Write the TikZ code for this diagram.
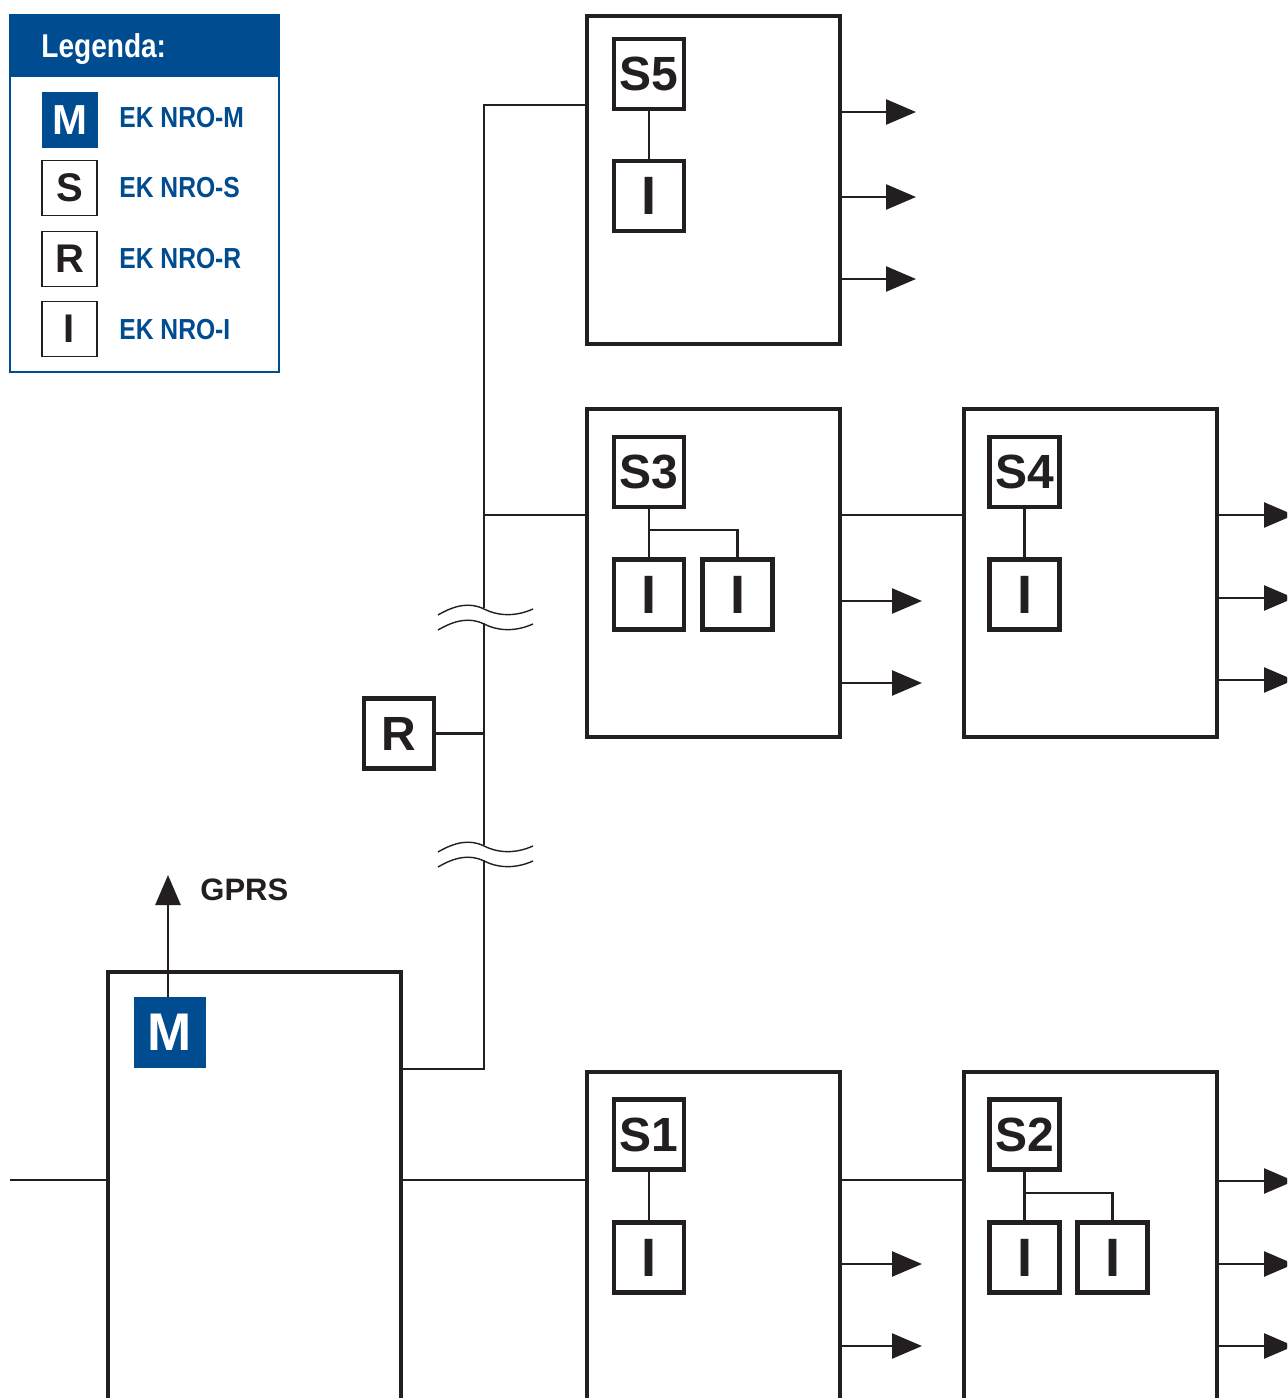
\documentclass[tikz,border=0pt]{standalone}
\usepackage{fontspec}
\usepackage{graphicx}
\setmainfont{Liberation Sans}
\newcommand{\cond}[1]{\scalebox{0.85}[1]{\bfseries #1}}
\usetikzlibrary{arrows.meta}
\definecolor{nroblue}{RGB}{0,76,145}
\definecolor{ink}{RGB}{35,31,32}
\tikzset{
  bigbox/.style={draw=ink, line width=2.2pt, minimum width=126.5pt, minimum height=164pt, inner sep=0pt},
  lblbox/.style={draw=ink, line width=2.2pt, minimum width=35pt, minimum height=35pt, inner sep=0pt, font=\bfseries\fontsize{24}{24}\selectfont, text=ink},
  ibox/.style={lblbox, font=\bfseries\fontsize{27}{27}\selectfont},
  legbox/.style={draw=ink, line width=0.9pt, minimum width=27.5pt, minimum height=27.5pt, inner sep=0pt, font=\bfseries\fontsize{20}{20}\selectfont, text=ink},
  legtxt/.style={anchor=west, inner sep=0pt, text=nroblue, font=\fontsize{14.5}{14.5}\selectfont},
  wire/.style={draw=ink, line width=1.25pt},
  arr/.style={wire, -{Triangle[length=15pt, width=12.5pt]}},
  wave/.style={draw=ink, line width=0.7pt},
}
\begin{document}
\begin{tikzpicture}[x=0.5pt, y=-0.5pt]
\clip (0,0) rectangle (1287,1398);
\fill[white] (0,0) rectangle (1287,1398);

% ---------- legend ----------
\fill[nroblue] (10,15) rectangle (279,77);
\draw[nroblue, line width=0.75pt] (10,15) rectangle (279,372);
\node[anchor=base west, inner sep=0pt, text=white, font=\fontsize{16.5}{16.5}\selectfont] (legtitle) at (41,57) {\cond{Legenda:}};
\node[legbox, fill=nroblue, draw=none, minimum width=28pt, minimum height=28pt, text=white, font=\bfseries\fontsize{21}{21}\selectfont] (lM) at (70,120) {M};
\node[legbox] (lS) at (69.5,188) {S};
\node[legbox] (lR) at (69.5,259) {R};
\node[legbox] (lI) at (69.5,329) {I};
\node[legtxt] (tM) at (119,118) {\cond{EK NRO-M}};
\node[legtxt] (tS) at (119,188) {\cond{EK NRO-S}};
\node[legtxt] (tR) at (119,259) {\cond{EK NRO-R}};
\node[legtxt] (tI) at (119,330) {\cond{EK NRO-I}};

% ---------- big boxes ----------
\node[bigbox] (S5) at (713.5,180) {};
\node[bigbox] (S3) at (713.5,573) {};
\node[bigbox] (S4) at (1090.5,573) {};
\node[bigbox] (S1) at (713.5,1236) {};
\node[bigbox] (S2) at (1090.5,1236) {};
\node[bigbox, minimum width=146.5pt, minimum height=224pt] (M) at (254.5,1196) {};

% ---------- inner boxes ----------
\node[lblbox] (s5) at (649,74) {S5};
\node[ibox] (i5) at (649,196) {I};
\node[lblbox] (s3) at (649,472) {S3};
\node[ibox] (i3a) at (649,594.5) {I};
\node[ibox] (i3b) at (737.5,594.5) {I};
\node[lblbox] (s4) at (1024.5,472) {S4};
\node[ibox] (i4) at (1024.5,594.5) {I};
\node[lblbox] (s1) at (649,1134.5) {S1};
\node[ibox] (i1) at (649,1257.5) {I};
\node[lblbox] (s2) at (1024.5,1134.5) {S2};
\node[ibox] (i2a) at (1024.5,1257.5) {I};
\node[ibox] (i2b) at (1112.5,1257.5) {I};
\node[lblbox] (R) at (399,733.5) {R};
\node[fill=nroblue, minimum width=36pt, minimum height=35.5pt, inner sep=0pt, text=white, font=\bfseries\fontsize{26.5}{26.5}\selectfont] (Mlbl) at (170,1032.5) {M};

% ---------- inner wiring ----------
\draw[wire] (s5.south) -- (i5.north);
\draw[wire] (s3.south) -- (i3a.north);
\draw[wire] (s3.south |- 0,530) -| (i3b.north);
\draw[wire] (s4.south) -- (i4.north);
\draw[wire] (s1.south) -- (i1.north);
\draw[wire] (s2.south) -- (i2a.north);
\draw[wire] (s2.south |- 0,1193) -| (i2b.north);

% ---------- bus ----------
\coordinate (b1) at (484,105);
\coordinate (b2) at (484,515);
\coordinate (bR) at (484,733.5);
\coordinate (bM) at (484,1069);
\coordinate (w1) at (484,608);
\coordinate (w2) at (484,623);
\coordinate (w3) at (484,845);
\coordinate (w4) at (484,860);
\draw[wire] (b1 -| S5.west) -- (b1) -- (b2) -- (w1);
\draw[wire] (b2) -- (b2 -| S3.west);
\draw[wire] (w2) -- (w3);
\draw[wire] (R.east) -- (bR);
\draw[wire] (w4) -- (bM) -- (bM -| M.east);

% break marks
\foreach \yy in {615,630,852,867}{
  \draw[wave] (438,\yy) .. controls (455,\yy-10) and (470,\yy-13) .. (484,\yy-6)
              .. controls (498,\yy+1) and (515,\yy+2) .. (533,\yy-6);
}

% ---------- chain links ----------
\draw[wire] (S3.east |- 0,515) -- (S4.west |- 0,515);
\coordinate (inL) at (10,1180);
\draw[wire] (inL) -- (inL -| M.west);
\draw[wire] (M.east |- 0,1180) -- (S1.west |- 0,1180);
\draw[wire] (S1.east |- 0,1180) -- (S2.west |- 0,1180);

% ---------- outputs ----------
\foreach \yy in {112,197,279}{
  \coordinate (o5\yy) at (916,\yy);
  \draw[arr] (S5.east |- o5\yy) -- (o5\yy);
}
\foreach \yy in {601,683}{
  \coordinate (o3\yy) at (922,\yy);
  \draw[arr] (S3.east |- o3\yy) -- (o3\yy);
}
\foreach \yy in {515,598,680}{
  \coordinate (o4\yy) at (1294,\yy);
  \draw[arr] (S4.east |- o4\yy) -- (o4\yy);
}
\foreach \yy in {1264,1346}{
  \coordinate (o1\yy) at (922,\yy);
  \draw[arr] (S1.east |- o1\yy) -- (o1\yy);
}
\foreach \yy in {1181,1264,1346}{
  \coordinate (o2\yy) at (1294,\yy);
  \draw[arr] (S2.east |- o2\yy) -- (o2\yy);
}

% ---------- GPRS ----------
\coordinate (gprs) at (168,875);
\draw[arr] (Mlbl.north -| gprs) -- (gprs);
\node[anchor=west, inner sep=0pt, text=ink, font=\bfseries\fontsize{15.5}{15.5}\selectfont] (gprstxt) at (200,890) {GPRS};
\end{tikzpicture}
\end{document}
